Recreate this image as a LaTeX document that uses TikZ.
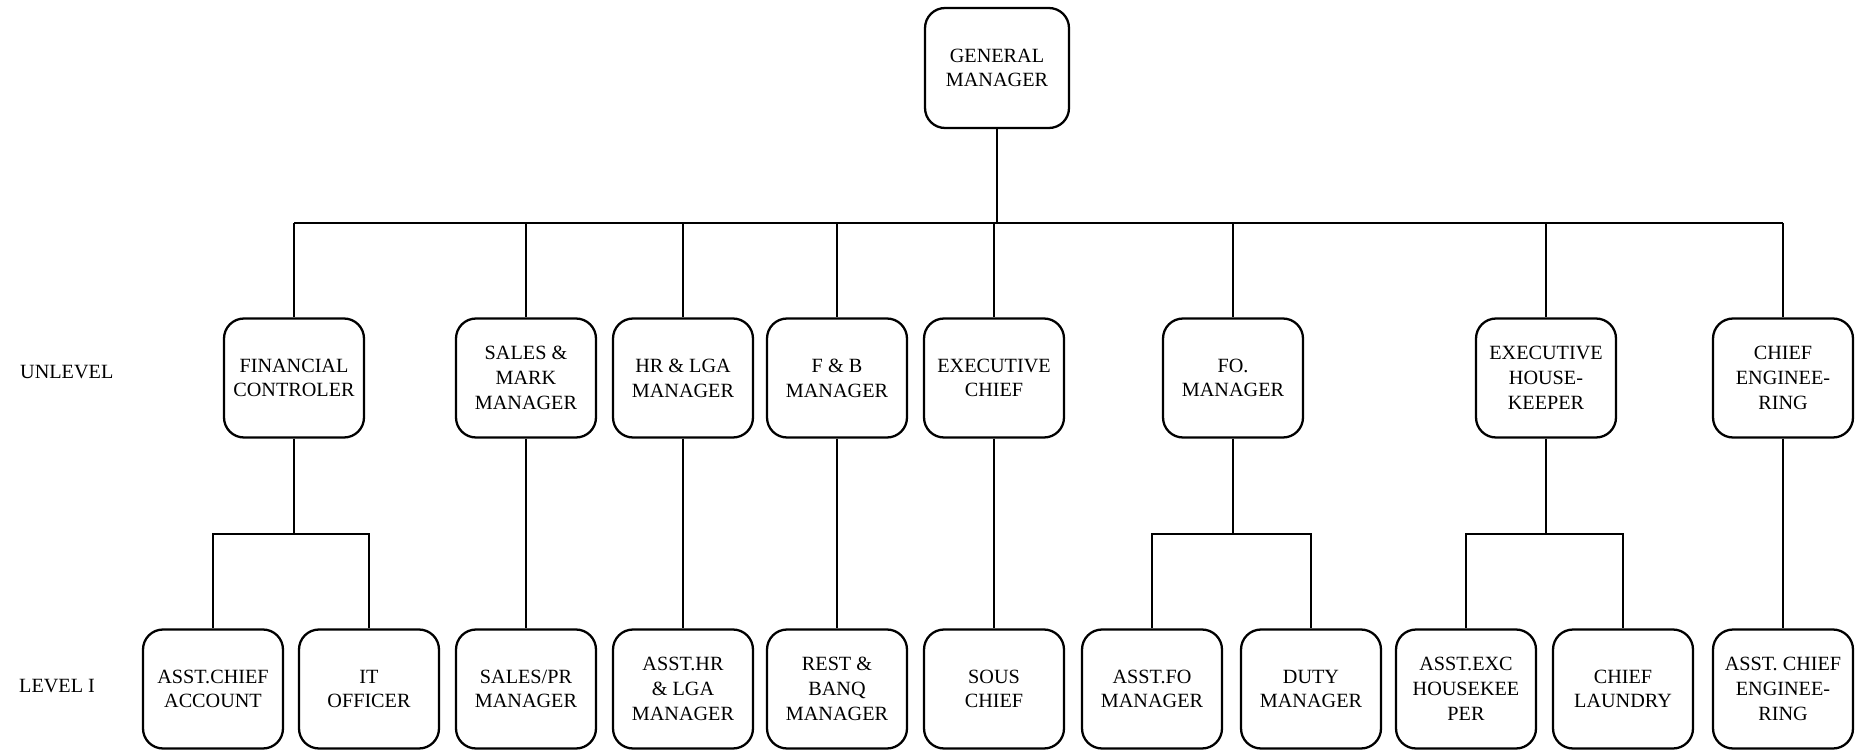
\documentclass[tikz,border=0pt]{standalone}
\usepackage{fontspec}
\setmainfont{Liberation Serif}
\usepackage{tikz}

\begin{document}
\begin{tikzpicture}[x=0.02cm,y=-0.02cm,
            post/.style = {draw, rounded corners=0.4cm, line width=1.3pt,
                        minimum width=2.8cm, minimum height=2.38cm,
                        inner sep=0pt, align=center,
                        font=\fontsize{11.5}{14.1}\selectfont},
            link/.style = {line width=0.8pt}]
            \useasboundingbox (0,0) rectangle (1862,750);
            % General manager
            \node[post, minimum width=2.88cm, minimum height=2.4cm] (gm) at (997,68) {GENERAL\\MANAGER};
            % Unlevel
            \node[post] (fc) at (294,378) {FINANCIAL\\CONTROLER};
            \node[post] (smm) at (526,378) {SALES \&\\MARK\\MANAGER};
            \node[post] (hr) at (683,378) {HR \& LGA\\MANAGER};
            \node[post] (fb) at (837,378) {F \& B\\MANAGER};
            \node[post] (exc) at (994,378) {EXECUTIVE\\CHIEF};
            \node[post] (fo) at (1233,378) {FO.\\MANAGER};
            \node[post] (hk) at (1546,378) {EXECUTIVE\\HOUSE-\\KEEPER};
            \node[post] (ce) at (1783,378) {CHIEF\\ENGINEE-\\RING};
            % Level I
            \node[post] (acc) at (213,689) {ASST.CHIEF\\ACCOUNT};
            \node[post] (it) at (369,689) {IT\\OFFICER};
            \node[post] (spr) at (526,689) {SALES/PR\\MANAGER};
            \node[post] (ahr) at (683,689) {ASST.HR\\\& LGA\\MANAGER};
            \node[post] (rb) at (837,689) {REST \&\\BANQ\\MANAGER};
            \node[post] (sous) at (994,689) {SOUS\\CHIEF};
            \node[post] (afo) at (1152,689) {ASST.FO\\MANAGER};
            \node[post] (duty) at (1311,689) {DUTY\\MANAGER};
            \node[post] (aexc) at (1466,689) {ASST.EXC\\HOUSEKEE\\PER};
            \node[post] (laundry) at (1623,689) {CHIEF\\LAUNDRY};
            \node[post] (ace) at (1783,689) {ASST. CHIEF\\ENGINEE-\\RING};
            % Row labels
            \node[anchor=west, font=\fontsize{11.5}{14.1}\selectfont] (unlevel) at (14,372) {UNLEVEL};
            \node[anchor=west, font=\fontsize{11.5}{14.1}\selectfont] (levelone) at (13,686) {LEVEL I};
            % Top bus
            \coordinate (bus) at (997,223);
            \draw[link] (gm) -- (bus);
            \draw[link, line width=1.2pt] (bus -| fc) -- (bus -| ce);
            \foreach \n in {fc,smm,hr,fb,exc,fo,hk,ce}
                \draw[link] (bus -| \n) -- (\n);
            % Single children
            \draw[link] (smm) -- (spr);
            \draw[link] (hr) -- (ahr);
            \draw[link] (fb) -- (rb);
            \draw[link] (exc) -- (sous);
            \draw[link] (ce) -- (ace);
            % Split children
            \coordinate (sub) at (0,534);
            \draw[link] (fc) -- (fc |- sub);
            \draw[link] (acc) |- (fc |- sub) -| (it);
            \draw[link] (fo) -- (fo |- sub);
            \draw[link] (afo) |- (fo |- sub) -| (duty);
            \draw[link] (hk) -- (hk |- sub);
            \draw[link] (aexc) |- (hk |- sub) -| (laundry);
        \end{tikzpicture}
\end{document}
